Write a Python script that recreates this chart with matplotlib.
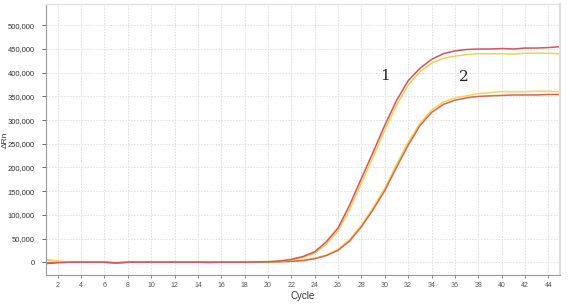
import numpy as np
import matplotlib
matplotlib.use("Agg")
import matplotlib.pyplot as plt
from matplotlib.ticker import FuncFormatter

plt.rcParams["font.family"] = ["Liberation Sans", "DejaVu Sans"]

cycles = np.arange(1, 46)

# sample 1 (two replicates)
s1_red = [-3000, -1000, 0, 0, 0, 0, -1500, 0, 0, 0, 0, 0, 0, 0, 0, 0, 0, 0, 500, 1000,
          2500, 6000, 12000, 22000, 43000, 72000, 121000, 177000, 232000, 289000, 341000,
          383000, 409000, 428000, 440000, 446000, 449000, 450000, 450000, 451000, 450000,
          452000, 452000, 453000, 455000]
s1_yel = [5000, 2000, 0, 0, 0, 0, -1000, 0, 0, 0, 0, 0, 0, 0, 0, 0, 0, 0, 500, 1000,
          2000, 5000, 10000, 19000, 38000, 66000, 112000, 167000, 222000, 279000, 331000,
          374000, 402000, 420000, 430000, 435000, 438000, 440000, 440000, 440000, 439000,
          441000, 441000, 441000, 440000]
# sample 2 (two replicates)
s2_yel = [6000, 2500, 0, 0, 0, 0, -1000, 0, 0, 0, 0, 0, 0, 0, -500, 0, 0, 0, 0, 500,
          1000, 2000, 4000, 8000, 15000, 27000, 48000, 78000, 115000, 156000, 206000,
          253000, 293000, 321000, 338000, 347000, 351000, 356000, 358000, 360000, 360000,
          360000, 361000, 361000, 360000]
s2_red = [-2000, -500, 0, 0, 0, 0, -2000, 0, 0, 0, 0, 0, 0, 0, -500, 0, 0, 0, 0, 500,
          1000, 2000, 3500, 7500, 14000, 25000, 45000, 75000, 111000, 151000, 200000,
          247000, 288000, 316000, 333000, 342000, 347000, 350000, 351000, 352000, 353000,
          353000, 353000, 354000, 354000]

xticks = list(range(2, 46, 2))
yticks = list(range(0, 500001, 50000))

fig = plt.figure(figsize=(5.7, 3.04), dpi=100)
ax = fig.add_axes([46 / 570, 1 - 275 / 304, 514 / 570, 271 / 304])

ax.plot(cycles, s2_yel, color="#f2d65a", lw=1.1)
ax.plot(cycles, s2_red, color="#e2643e", lw=1.1)
ax.plot(cycles, s1_yel, color="#f0d050", lw=1.1)
ax.plot(cycles, s1_red, color="#d9505e", lw=1.1)

ax.set_xlim(1, 45)
ax.set_ylim(-27000, 545000)
ax.set_xticks(xticks)
ax.set_yticks(yticks)
ax.yaxis.set_major_formatter(FuncFormatter(lambda v, p: f"{int(v):,}"))
ax.grid(True, color="#dddddd", ls=(0, (1.5, 1.5)), lw=0.7)
ax.tick_params(axis="x", labelsize=5, colors="#555555", length=2, width=0.5, pad=3)
ax.tick_params(axis="y", labelsize=5.5, colors="#333333", length=3, width=0.5, pad=5)
for s in ["left", "bottom"]:
    ax.spines[s].set_color("#999999")
for s in ["top", "right"]:
    ax.spines[s].set_color("#dddddd")
ax.spines["right"].set_linewidth(1.5)

ax.set_xlabel("Cycle", fontsize=7, color="#333333", labelpad=1.5)
ax.set_ylabel("ΔRn", fontsize=6, color="#333333")
ax.yaxis.set_label_coords(-0.073, 0.5)

ax.text(30, 392000, "1", fontsize=11, family="DejaVu Serif", ha="center", va="center", color="#222222")
ax.text(36.8, 390000, "2", fontsize=11, family="DejaVu Serif", ha="center", va="center", color="#222222")

fig.savefig("out.png", dpi=100)
